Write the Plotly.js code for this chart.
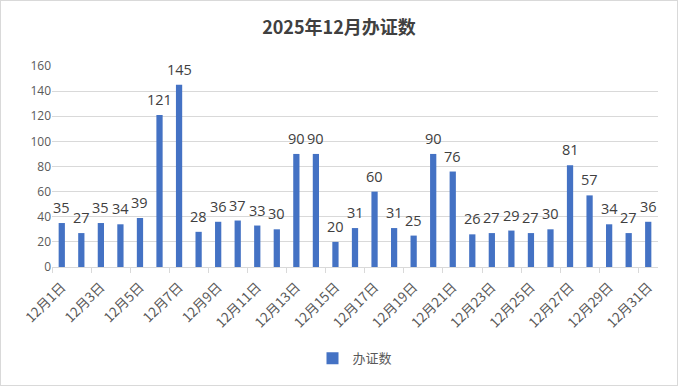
<!DOCTYPE html>
<html><head><meta charset="utf-8">
<script src="https://cdn.plot.ly/plotly-3.0.1.min.js"></script>
<style>
html,body{margin:0;padding:0;background:#fff;}
#chart{width:678px;height:386px;box-sizing:border-box;border:1px solid #d9d9d9;}
</style></head>
<body><div id="chart"></div>
<script>
const days = [];
for (let d = 1; d <= 31; d++) days.push('12月' + d + '日');
const counts = [35,27,35,34,39,121,145,28,36,37,33,30,90,90,20,31,60,31,25,90,76,26,27,29,27,30,81,57,34,27,36];
const seriesName = '办证数';
const titleText = '2025年12月办证数';

const font = '"Noto Sans CJK SC", "Microsoft YaHei", sans-serif';
const labelFont = {family: '"Open Sans", sans-serif', size: 14.5, color: '#404040'};
const annotations = days.map((d, i) => ({
  x: d, y: counts[i], xref: 'x', yref: 'y', text: String(counts[i]),
  showarrow: false, yanchor: 'bottom', xanchor: 'center', yshift: 4, font: labelFont
}));

Plotly.newPlot('chart', [{
  type: 'bar', x: days, y: counts, name: seriesName,
  marker: {color: '#4472C4'}
}], {
  width: 676, height: 384,
  margin: {l: 51, r: 19, t: 65, b: 116},
  paper_bgcolor: '#fff', plot_bgcolor: '#fff',
  title: {text: '<b>' + titleText + '</b>', x: 0.5, xanchor: 'center', y: 0.93, yanchor: 'middle',
    font: {family: font, size: 18, color: '#404040'}},
  bargap: 0.68,
  showlegend: true,
  annotations: annotations,
  legend: {orientation: 'h', x: 0.5, xanchor: 'center', y: -0.38, yanchor: 'top',
    font: {family: font, size: 13, color: '#595959'}},
  xaxis: {type: 'category', range: [-0.5, days.length - 0.5], tickangle: -45, dtick: 2, tickson: 'boundaries',
    ticks: 'outside', ticklen: 5, tickcolor: '#d9d9d9', ticklabelstandoff: 6,
    showline: true, linecolor: '#d9d9d9', showgrid: false,
    tickfont: {family: font, size: 13.5, color: '#595959'}},
  yaxis: {range: [0, 160], dtick: 20, showgrid: true, gridcolor: '#d9d9d9',
    zeroline: false, showline: false, ticks: '',
    tickfont: {family: '"Open Sans", sans-serif', size: 12, color: '#595959'}}
}, {displayModeBar: false});
</script></body></html>
